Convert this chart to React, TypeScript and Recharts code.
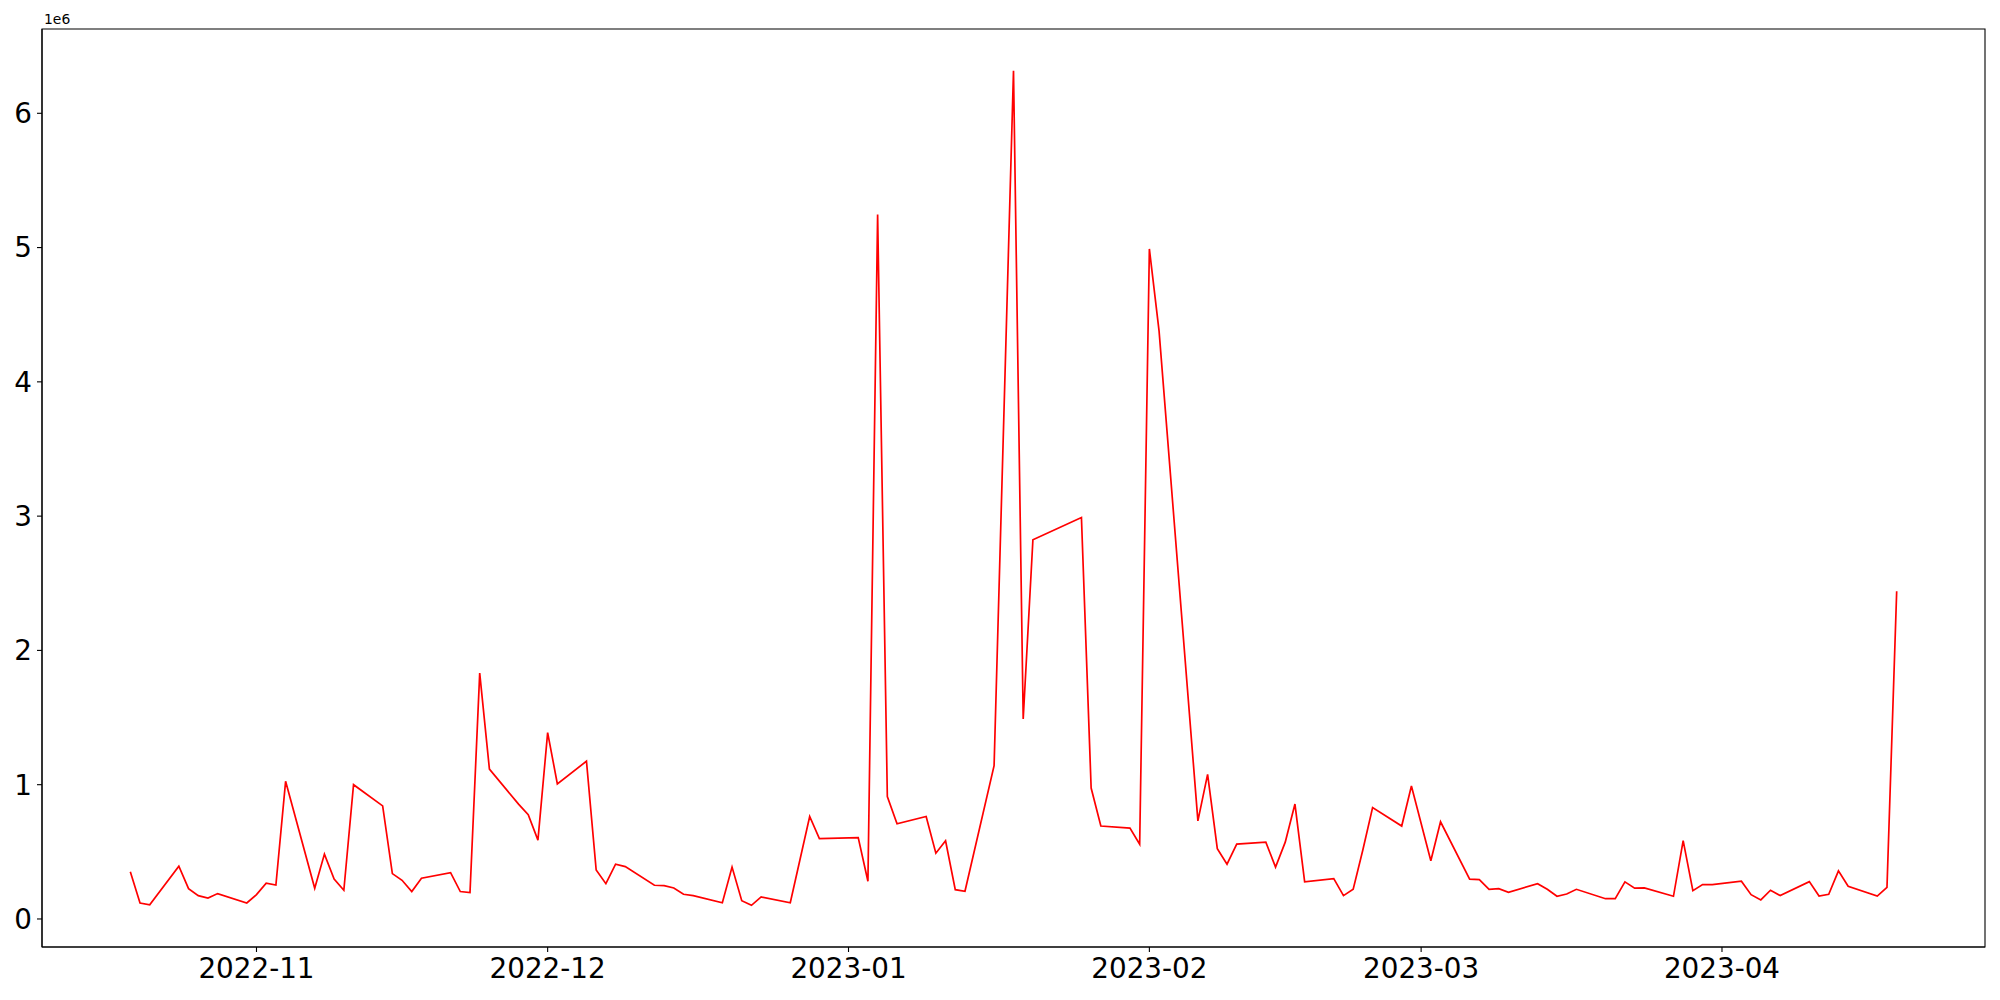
import React from "react";
import { LineChart, Line, XAxis, YAxis, ReferenceArea } from "recharts";

const dates: string[] = [
  "2022-10-19", "2022-10-20", "2022-10-21", "2022-10-24", "2022-10-25", "2022-10-26", "2022-10-27", "2022-10-28", "2022-10-31",
  "2022-11-01", "2022-11-02", "2022-11-03", "2022-11-04", "2022-11-07", "2022-11-08", "2022-11-09", "2022-11-10", "2022-11-11",
  "2022-11-14", "2022-11-15", "2022-11-16", "2022-11-17", "2022-11-18", "2022-11-21", "2022-11-22", "2022-11-23", "2022-11-24",
  "2022-11-25", "2022-11-28", "2022-11-29", "2022-11-30", "2022-12-01", "2022-12-02", "2022-12-05", "2022-12-06", "2022-12-07",
  "2022-12-08", "2022-12-09", "2022-12-12", "2022-12-13", "2022-12-14", "2022-12-15", "2022-12-16", "2022-12-19", "2022-12-20",
  "2022-12-21", "2022-12-22", "2022-12-23", "2022-12-26", "2022-12-28", "2022-12-29",
  "2023-01-02", "2023-01-03", "2023-01-04", "2023-01-05", "2023-01-06", "2023-01-09", "2023-01-10", "2023-01-11", "2023-01-12",
  "2023-01-13", "2023-01-16", "2023-01-18", "2023-01-19", "2023-01-20", "2023-01-25", "2023-01-26", "2023-01-27", "2023-01-30",
  "2023-01-31", "2023-02-01", "2023-02-02", "2023-02-06", "2023-02-07", "2023-02-08", "2023-02-09", "2023-02-10", "2023-02-13",
  "2023-02-14", "2023-02-15", "2023-02-16", "2023-02-17", "2023-02-20", "2023-02-21", "2023-02-22", "2023-02-23", "2023-02-24",
  "2023-02-27", "2023-02-28", "2023-03-02", "2023-03-03", "2023-03-06", "2023-03-07", "2023-03-08", "2023-03-09", "2023-03-10",
  "2023-03-13", "2023-03-14", "2023-03-15", "2023-03-16", "2023-03-17", "2023-03-20", "2023-03-21", "2023-03-22", "2023-03-23",
  "2023-03-24", "2023-03-27", "2023-03-28", "2023-03-29", "2023-03-30", "2023-03-31", "2023-04-03", "2023-04-04", "2023-04-05",
  "2023-04-06", "2023-04-07", "2023-04-10", "2023-04-11", "2023-04-12", "2023-04-13", "2023-04-14", "2023-04-17", "2023-04-18",
  "2023-04-19",
];

const volumes: number[] = [
  352000, 119000, 106000, 393000, 226000, 174000, 156000, 189000, 119000,
  181000, 266000, 253000, 1025000, 229000, 483000, 298000, 214000, 1000000,
  842000, 338000, 288000, 204000, 303000, 345000, 204000, 196000, 1831000,
  1116000, 855000, 777000, 587000, 1388000, 1006000, 1175000, 365000, 263000,
  408000, 390000, 251000, 248000, 231000, 184000, 174000, 121000, 386000,
  136000, 102000, 164000, 121000, 763000, 599000,
  606000, 281000, 5246000, 912000, 709000, 763000, 490000, 582000, 218000,
  206000, 1142000, 6317000, 1490000, 2824000, 2990000, 975000, 692000, 677000,
  557000, 4990000, 4378000, 731000, 1077000, 524000, 408000, 557000, 572000,
  386000, 572000, 856000, 276000, 301000, 174000, 221000, 515000, 830000,
  692000, 990000, 433000, 724000, 296000, 293000, 221000, 226000, 199000,
  263000, 221000, 169000, 186000, 221000, 151000, 151000, 276000, 229000,
  231000, 169000, 584000, 211000, 256000, 256000, 281000, 181000, 142000,
  214000, 174000, 278000, 171000, 184000, 358000, 244000, 171000, 236000,
  2440000,
];

const monthTickDates: string[] = ["2022-11-01", "2022-12-01", "2023-01-01", "2023-02-01", "2023-03-01", "2023-04-01"];
const yTickValues: number[] = [0, 1000000, 2000000, 3000000, 4000000, 5000000, 6000000];

const toMs = (s: string) => {
  const [y, m, d] = s.split("-").map(Number);
  return Date.UTC(y, m - 1, d);
};

const data = dates.map((d, i) => ({ t: toMs(d), v: volumes[i] }));

const tMin = Math.min(...data.map((p) => p.t));
const tMax = Math.max(...data.map((p) => p.t));
const tPad = (tMax - tMin) * 0.05;
const xDomain: [number, number] = [tMin - tPad, tMax + tPad];

const vMin = Math.min(...volumes);
const vMax = Math.max(...volumes);
const vPad = (vMax - vMin) * 0.05;
const yDomain: [number, number] = [vMin - vPad, vMax + vPad];

const monthTicks = monthTickDates.map(toMs);

const fmtMonth = (ms: number) => {
  const d = new Date(ms);
  const m = d.getUTCMonth() + 1;
  return `${d.getUTCFullYear()}-${m < 10 ? "0" + m : m}`;
};

const FONT = "DejaVu Sans, sans-serif";
const tickStyle = { fontSize: 27.8, fill: "#000", fontFamily: FONT };

export default function App() {
  return (
    <div style={{ position: "absolute", left: 0, top: 0, width: 2000, height: 1000, background: "#fff" }}>
      <div
        style={{
          position: "absolute",
          left: 44,
          top: 11,
          fontSize: 13.9,
          fontFamily: FONT,
          color: "#000",
          lineHeight: "16px",
        }}
      >
        1e6
      </div>
      <LineChart width={2000} height={1000} data={data} margin={{ top: 29, right: 15, bottom: 0, left: 0 }}>
        <XAxis
          dataKey="t"
          type="number"
          domain={xDomain}
          ticks={monthTicks}
          tickFormatter={fmtMonth}
          allowDataOverflow
          height={53}
          tickSize={5}
          tickMargin={6}
          tick={tickStyle}
          axisLine={{ stroke: "#000", strokeWidth: 1.1 }}
          tickLine={{ stroke: "#000", strokeWidth: 1.1 }}
          interval={0}
        />
        <YAxis
          type="number"
          domain={yDomain}
          ticks={yTickValues}
          tickFormatter={(v: number) => String(Math.round(v / 1000000))}
          allowDataOverflow
          width={42}
          tickSize={5}
          tickMargin={5}
          tick={tickStyle}
          axisLine={{ stroke: "#000", strokeWidth: 1.1 }}
          tickLine={{ stroke: "#000", strokeWidth: 1.1 }}
          interval={0}
        />
        <ReferenceArea
          x1={xDomain[0]}
          x2={xDomain[1]}
          y1={yDomain[0]}
          y2={yDomain[1]}
          fill="none"
          fillOpacity={0}
          stroke="#000"
          strokeWidth={1.1}
          ifOverflow="visible"
        />
        <Line
          type="linear"
          dataKey="v"
          stroke="#ff0000"
          strokeWidth={1.7}
          dot={false}
          activeDot={false}
          isAnimationActive={false}
        />
      </LineChart>
    </div>
  );
}
